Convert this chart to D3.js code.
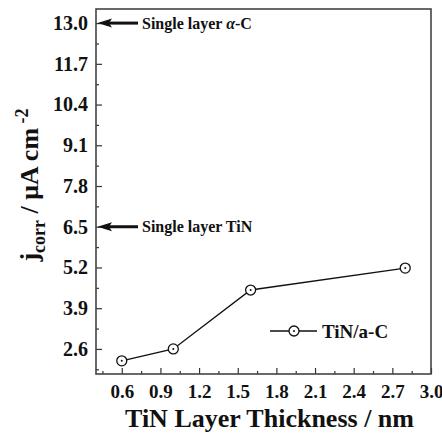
<!DOCTYPE html>
<html>
<head>
<meta charset="utf-8">
<script src="https://cdn.jsdelivr.net/npm/d3@7"></script>
<style>
  html, body { margin: 0; padding: 0; background: #fff; }
  svg { display: block; font-family: "Liberation Serif", "Times New Roman", serif; }
</style>
</head>
<body>
<svg id="chart" width="442" height="434"></svg>
<script>
// data
const thickness = [0.6, 1.0, 1.6, 2.8];
const jcorr = [2.22, 2.6, 4.48, 5.18];
const xTicks = [0.6, 0.9, 1.2, 1.5, 1.8, 2.1, 2.4, 2.7, 3.0];
const yTicks = [2.6, 3.9, 5.2, 6.5, 7.8, 9.1, 10.4, 11.7, 13.0];
const refValues = [13.0, 6.5];
const refLabels = ["Single layer ", "Single layer TiN"];

const svg = d3.select("#chart");
const margin = { top: 9, right: 11, bottom: 60, left: 96 };
const width = 442 - margin.left - margin.right;
const height = 434 - margin.top - margin.bottom;

const x = d3.scaleLinear().domain([0.4, 3.0]).range([0, width]);
const y = d3.scaleLinear().domain([1.8, 13.45]).range([height, 0]);

const g = svg.append("g").attr("transform", `translate(${margin.left},${margin.top})`);

// 미니 눈금
const xMinor = d3.range(0.45, 3.0, 0.3);
const yMinor = d3.range(1.95, 13.4, 1.3);

g.append("g")
  .attr("transform", `translate(0,${height})`)
  .call(d3.axisBottom(x).tickValues(xMinor).tickSize(-3).tickFormat(""))
  .call((s) => s.select(".domain").remove())
  .selectAll("line").attr("stroke", "#333").attr("stroke-width", 1.2);

g.append("g")
  .call(d3.axisLeft(y).tickValues(yMinor).tickSize(-3).tickFormat(""))
  .call((s) => s.select(".domain").remove())
  .selectAll("line").attr("stroke", "#333").attr("stroke-width", 1.2);

const xAxis = g.append("g")
  .attr("transform", `translate(0,${height})`)
  .call(d3.axisBottom(x).tickValues(xTicks).tickSize(-6).tickPadding(11).tickFormat(d3.format(".1f")));
xAxis.select(".domain").remove();
xAxis.selectAll("line").attr("stroke", "#333").attr("stroke-width", 1.2);
xAxis.selectAll("text")
  .attr("fill", "#111")
  .style("font-size", "19px")
  .style("font-weight", "bold")
  .style("font-family", "Liberation Serif");

const yAxis = g.append("g")
  .call(d3.axisLeft(y).tickValues(yTicks).tickSize(-6).tickPadding(8).tickFormat(d3.format(".1f")));
yAxis.select(".domain").remove();
yAxis.selectAll("line").attr("stroke", "#333").attr("stroke-width", 1.2);
yAxis.selectAll("text")
  .attr("fill", "#111")
  .style("font-size", "20px")
  .style("font-weight", "bold")
  .style("font-family", "Liberation Serif");

// 프레임
g.append("rect")
  .attr("width", width)
  .attr("height", height)
  .attr("fill", "none")
  .attr("stroke", "#444")
  .attr("stroke-width", 1.6);

// 화살표 주석
const refs = g.selectAll("g.ref").data(refValues).enter().append("g").attr("class", "ref");
refs.append("line")
  .attr("x1", 10).attr("x2", 42)
  .attr("y1", (d) => y(d)).attr("y2", (d) => y(d))
  .attr("stroke", "#111").attr("stroke-width", 3);
refs.append("path")
  .attr("d", (d) => `M1.5,${y(d)} L16,${y(d) - 4.5} L13,${y(d)} L16,${y(d) + 4.5} Z`)
  .attr("fill", "#111");
const refText = refs.append("text")
  .attr("x", 46)
  .attr("y", (d) => y(d))
  .attr("dy", "0.35em")
  .style("font-size", "16px")
  .style("font-weight", "bold")
  .attr("fill", "#111")
  .text((d, i) => refLabels[i]);
refText.filter((d, i) => i === 0).append("tspan").style("font-style", "italic").text("α");
refText.filter((d, i) => i === 0).append("tspan").text("-C");

// 데이터 선
const line = d3.line().x((d) => x(d[0])).y((d) => y(d[1]));
const pts = thickness.map((t, i) => [t, jcorr[i]]);
g.append("path")
  .datum(pts)
  .attr("d", line)
  .attr("fill", "none")
  .attr("stroke", "#111")
  .attr("stroke-width", 1.4);

const marks = g.selectAll("g.pt").data(pts).enter().append("g").attr("class", "pt")
  .attr("transform", (d) => `translate(${x(d[0])},${y(d[1])})`);
marks.append("circle").attr("r", 5).attr("fill", "#fff").attr("stroke", "#111").attr("stroke-width", 1.3);
marks.append("circle").attr("r", 1).attr("fill", "#111");

// 범례
const lg = g.append("g").attr("transform", `translate(${174},${322})`);
lg.append("line").attr("x1", 0).attr("x2", 47).attr("y1", 0).attr("y2", 0).attr("stroke", "#111").attr("stroke-width", 1.4);
lg.append("circle").attr("cx", 24).attr("r", 5).attr("fill", "#fff").attr("stroke", "#111").attr("stroke-width", 1.3);
lg.append("circle").attr("cx", 24).attr("r", 1).attr("fill", "#111");
lg.append("text").attr("x", 52).attr("dy", "0.35em")
  .style("font-size", "19px").style("font-weight", "bold").attr("fill", "#111").text("TiN/a-C");

// 축 제목
svg.append("text")
  .attr("x", margin.left + width / 2 + 6)
  .attr("y", 427)
  .attr("text-anchor", "middle")
  .style("font-size", "26px")
  .style("font-weight", "bold")
  .attr("fill", "#111")
  .text("TiN Layer Thickness / nm");

const yt = svg.append("text")
  .attr("transform", "translate(38,185) rotate(-90)")
  .attr("text-anchor", "middle")
  .style("font-size", "26px")
  .style("font-weight", "bold")
  .attr("fill", "#111");
yt.append("tspan").text("j");
yt.append("tspan").attr("dy", 7).style("font-size", "18px").text("corr");
yt.append("tspan").attr("dy", -7).text(" / μA cm");
yt.append("tspan").attr("dy", -10).style("font-size", "18px").text(" -2");
</script>
</body>
</html>
